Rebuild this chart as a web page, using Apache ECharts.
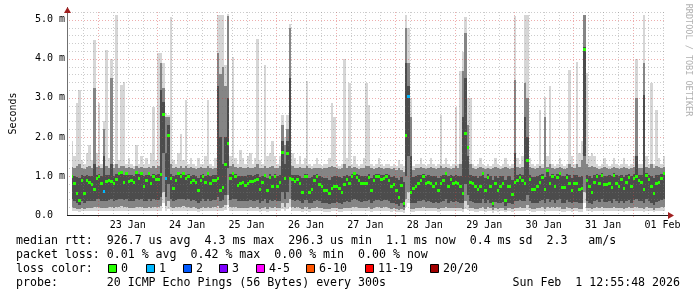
<!DOCTYPE html>
<html><head><meta charset="utf-8">
<script src="https://cdn.jsdelivr.net/npm/echarts@6/dist/echarts.min.js"></script>
<style>html,body{margin:0;padding:0;background:#fff}#c{width:697px;height:297px}</style>
</head><body><div id="c"></div><script>
// ---- data (hour steps, first step = 22 Jan 13:00) ----
const firstStepHour = 13;
const dayLabels = ['23 Jan','24 Jan','25 Jan','26 Jan','27 Jan','28 Jan','29 Jan','30 Jan','31 Jan','01 Feb'];
const yTickLabels = ['0.0  ','1.0 m','2.0 m','3.0 m','4.0 m','5.0 m'];
const medianRtt = [
1.00,0.83,0.56,0.38,0.90,0.56,0.89,0.84,0.80,0.67,
0.95,1.00,0.81,0.62,0.88,0.90,0.88,0.83,0.92,1.07,
1.10,0.85,1.08,0.88,0.90,0.84,1.10,0.96,1.07,0.75,
0.90,1.07,0.81,1.01,0.92,0.92,1.04,2.58,0.94,2.05,
0.94,0.70,0.90,1.08,1.00,1.07,0.94,1.00,0.84,0.90,
0.84,0.64,0.90,1.00,0.85,1.08,0.83,0.90,0.90,0.95,
0.64,0.71,1.30,1.85,0.95,1.08,1.00,0.77,0.83,0.85,
0.76,0.83,0.88,0.86,0.90,0.92,0.66,0.85,1.03,0.64,
0.98,0.74,1.00,0.74,0.85,1.62,0.95,1.60,0.95,0.91,
0.88,0.91,0.81,0.60,1.00,1.00,0.58,0.66,0.90,1.00,
0.79,0.75,0.64,0.64,0.56,0.70,0.74,0.74,0.70,0.58,
0.80,0.91,0.81,1.00,1.07,0.98,0.90,0.81,0.83,0.81,
0.98,0.64,0.90,1.00,1.00,0.91,0.95,1.00,0.90,0.74,
0.80,0.64,0.47,0.77,0.32,2.05,3.05,0.60,0.70,0.74,
0.83,0.90,1.00,0.81,0.85,0.81,0.74,0.81,0.64,0.81,
0.90,1.08,0.74,0.91,0.83,0.85,0.81,0.75,0.57,2.10,
1.75,0.85,0.81,0.74,0.66,0.74,1.08,0.64,0.98,0.74,
0.30,0.81,0.64,0.74,0.81,0.38,0.74,0.74,0.54,0.85,
0.90,0.98,0.90,0.83,1.41,0.91,0.66,0.66,0.74,0.85,
0.98,0.66,1.15,0.81,1.00,0.74,0.98,1.08,0.72,0.72,
0.98,0.81,0.64,0.81,0.81,0.66,0.69,4.26,0.90,0.74,
0.60,0.84,1.00,0.81,1.03,0.79,0.79,0.81,0.72,1.03,
0.83,0.74,0.91,0.69,0.85,0.98,0.74,0.94,1.00,0.90,
0.85,0.66,1.03,0.91,0.74,0.56,0.81,0.85,0.94,1.08];
const lostPings = [
0,0,0,0,0,0,0,0,0,0, 0,0,0,1,0,0,0,0,0,0, 0,0,0,0,0,0,0,0,0,0, 0,0,0,0,0,0,0,0,1,0,
0,0,0,0,0,0,0,0,0,0, 0,0,0,0,0,0,0,0,0,0, 0,0,0,0,0,0,0,0,0,0, 0,0,0,0,0,0,0,0,0,0,
0,0,0,0,0,0,0,0,0,0, 0,0,0,0,0,0,0,0,0,0, 0,0,0,0,0,0,0,0,0,0, 0,0,0,0,0,0,0,0,0,0,
0,0,0,0,0,0,0,0,0,0, 0,0,0,0,0,0,1,0,0,0, 0,0,0,0,0,0,0,0,0,0, 0,0,0,0,0,0,0,0,0,0,
0,0,0,0,0,0,0,0,0,0, 0,0,0,0,0,0,0,0,0,0, 0,0,0,0,0,0,0,0,0,0, 0,0,0,0,0,0,0,0,0,0,
0,0,0,0,0,0,0,0,0,0, 0,0,0,0,0,0,0,0,0,0, 0,0,0,0,0,0,0,0,0,0, 0,0,0,0,0,0,0,0,0,0];
const maxPing = [
1.9,1.5,2.87,3.2,1.4,1.3,1.6,1.8,1.4,4.49,
1.6,2.87,1.3,2.4,4.23,1.45,4.0,1.3,5.13,1.4,
3.33,3.4,1.3,1.45,1.3,1.25,1.8,1.3,1.5,1.3,
1.45,1.3,1.6,2.77,1.4,4.15,4.15,3.9,2.6,2.56,
5.07,1.4,1.3,1.6,2.07,1.4,2.95,1.3,1.45,1.3,
1.25,1.45,1.3,1.3,1.5,2.95,1.3,1.25,1.45,5.13,
5.13,5.13,3.85,5.15,1.5,4.05,1.45,1.3,1.67,1.45,
1.3,1.5,1.6,1.3,1.45,4.5,1.4,1.3,3.85,1.5,
1.6,1.9,1.5,1.3,1.5,2.56,2.0,2.56,4.9,1.6,
1.45,1.3,1.5,1.3,1.45,3.44,1.3,1.25,1.3,1.45,
1.3,1.25,1.3,1.3,1.45,2.87,2.5,1.3,1.25,1.3,
4.0,1.45,3.38,1.3,1.5,1.3,1.25,1.3,1.45,3.38,
2.82,1.3,1.25,1.3,1.45,1.3,1.25,1.3,1.3,1.25,
1.3,1.25,1.4,1.3,1.25,5.13,4.8,3.0,1.25,1.3,
1.3,1.45,1.3,1.25,1.3,1.45,1.3,1.25,1.3,2.56,
1.3,1.45,1.3,1.25,1.3,2.77,1.3,3.7,4.18,5.07,
3.0,3.0,1.3,1.25,1.3,1.45,1.3,1.25,1.3,1.25,
1.3,1.45,1.3,1.25,1.3,1.45,1.3,1.25,1.3,5.1,
1.45,1.3,1.5,5.13,5.13,1.45,1.3,1.25,1.3,2.7,
1.3,3.03,1.5,3.3,1.3,1.25,1.3,1.45,1.3,1.25,
1.3,3.72,1.5,1.3,3.92,1.6,1.9,5.13,3.64,1.5,
1.6,1.5,1.3,1.25,1.3,1.45,1.3,1.25,1.3,1.45,
1.3,1.25,1.3,1.45,1.3,1.25,1.3,1.5,4.0,1.3,
1.3,5.13,1.5,1.3,3.38,1.3,2.7,1.45,1.3,1.5];
const p90Ping = [
1.22,1.2,1.25,1.3,1.2,1.18,1.22,1.25,1.2,3.25,
1.22,1.25,1.2,2.2,1.25,1.2,3.5,1.2,1.3,1.2,
1.25,1.25,1.2,1.22,1.2,1.18,1.25,1.2,1.22,1.2,
1.2,1.22,1.2,1.25,1.2,1.25,3.9,3.25,2.5,2.5,
1.3,1.2,1.22,1.2,1.25,1.2,1.25,1.2,1.22,1.2,
1.18,1.2,1.22,1.2,1.2,1.25,1.2,1.18,1.2,4.15,
3.6,3.8,3.3,5.1,1.25,1.3,1.22,1.2,1.22,1.2,
1.2,1.22,1.2,1.2,1.22,1.3,1.2,1.2,1.25,1.2,
1.22,1.25,1.2,1.2,1.25,2.3,1.8,2.2,4.8,1.25,
1.2,1.2,1.22,1.2,1.2,1.25,1.2,1.18,1.2,1.2,
1.2,1.18,1.2,1.2,1.22,1.25,1.22,1.2,1.18,1.2,
1.3,1.2,1.25,1.2,1.22,1.2,1.18,1.2,1.2,1.25,
1.25,1.2,1.18,1.2,1.22,1.2,1.18,1.2,1.2,1.18,
1.2,1.15,1.2,1.15,1.1,4.8,3.9,2.5,1.15,1.2,
1.2,1.22,1.2,1.18,1.2,1.22,1.2,1.18,1.2,1.25,
1.2,1.22,1.2,1.18,1.2,1.25,1.2,1.3,3.7,4.66,
2.3,1.3,1.2,1.18,1.2,1.22,1.2,1.18,1.2,1.18,
1.2,1.22,1.2,1.18,1.2,1.22,1.2,1.18,1.2,3.46,
1.22,1.2,1.22,3.38,3.0,1.22,1.2,1.18,1.2,1.25,
1.2,2.5,1.22,1.3,1.2,1.18,1.2,1.22,1.2,1.18,
1.2,1.3,1.22,1.2,1.3,1.22,1.4,5.13,1.3,1.22,
1.25,1.22,1.2,1.18,1.2,1.22,1.2,1.18,1.2,1.22,
1.2,1.18,1.2,1.22,1.2,1.18,1.2,1.22,3.0,1.2,
1.2,3.9,1.22,1.2,1.3,1.2,1.25,1.22,1.2,1.22];
const p75Ping = [
1.02,1.0,0.98,0.95,1.02,1.0,1.02,1.0,1.0,1.3,
1.02,1.05,1.0,1.5,1.02,1.02,1.3,1.0,1.05,1.1,
1.12,1.02,1.1,1.02,1.02,1.0,1.12,1.05,1.1,1.0,
1.02,1.1,1.0,1.05,1.02,1.05,3.2,2.9,1.6,2.3,
1.05,1.0,1.02,1.1,1.05,1.1,1.02,1.05,1.0,1.02,
1.0,0.95,1.02,1.05,1.0,1.1,1.0,1.02,1.02,3.3,
2.0,1.3,2.0,3.0,1.05,1.1,1.05,1.0,1.0,1.0,
1.0,1.02,1.02,1.0,1.02,1.05,0.98,1.0,1.05,0.95,
1.05,1.0,1.05,1.0,1.02,1.9,1.3,1.9,3.5,1.02,
1.02,1.02,1.0,0.95,1.05,1.05,0.95,0.98,1.02,1.05,
1.0,0.98,0.95,0.95,0.9,0.98,1.0,1.0,0.98,0.95,
1.0,1.02,1.0,1.05,1.1,1.05,1.02,1.0,1.0,1.0,
1.05,0.95,1.02,1.05,1.05,1.02,1.02,1.05,1.02,0.98,
1.0,0.95,0.9,0.98,0.85,3.9,3.3,1.5,0.98,1.0,
1.02,1.02,1.05,1.0,1.02,1.0,1.0,1.0,0.95,1.0,
1.02,1.1,1.0,1.02,1.0,1.02,1.0,1.0,2.5,3.5,
1.5,1.02,1.0,1.0,0.95,1.0,1.1,0.95,1.05,1.0,
0.9,1.0,0.95,1.0,1.0,0.9,1.0,1.0,0.9,1.6,
1.02,1.05,1.02,2.5,2.0,1.02,0.98,0.98,1.0,1.02,
1.05,0.98,1.1,1.0,1.05,1.0,1.05,1.1,1.0,1.0,
1.05,1.02,0.95,1.02,1.02,0.98,1.0,4.3,1.02,1.0,
0.95,1.02,1.05,1.02,1.08,1.0,1.0,1.02,1.0,1.08,
1.02,1.0,1.02,0.98,1.02,1.05,1.0,1.05,1.5,1.02,
1.02,3.08,1.08,1.02,1.0,0.95,1.02,1.02,1.05,1.1];
const p25Ping = [
0.4,0.35,0.3,0.25,0.35,0.3,0.35,0.35,0.35,0.35,
0.4,0.4,0.35,0.35,0.35,0.38,0.4,0.35,0.38,0.4,
0.42,0.38,0.4,0.35,0.35,0.35,0.4,0.38,0.4,0.35,
0.35,0.4,0.35,0.4,0.38,0.38,0.45,1.6,0.45,0.8,
0.4,0.35,0.38,0.4,0.4,0.42,0.38,0.4,0.35,0.38,
0.35,0.3,0.35,0.4,0.35,0.4,0.35,0.38,0.38,0.45,
0.35,0.38,0.5,1.2,0.38,0.4,0.4,0.35,0.35,0.35,
0.35,0.35,0.38,0.35,0.35,0.38,0.3,0.35,0.4,0.3,
0.38,0.35,0.38,0.35,0.35,0.6,0.4,0.6,0.9,0.38,
0.35,0.38,0.35,0.3,0.38,0.38,0.3,0.32,0.35,0.38,
0.35,0.32,0.3,0.3,0.28,0.32,0.32,0.33,0.3,0.28,
0.33,0.35,0.33,0.38,0.4,0.38,0.35,0.33,0.35,0.35,
0.38,0.3,0.35,0.38,0.38,0.35,0.38,0.38,0.35,0.3,
0.32,0.28,0.22,0.3,0.2,1.0,1.5,0.3,0.3,0.32,
0.35,0.35,0.38,0.33,0.35,0.33,0.32,0.33,0.3,0.33,
0.35,0.4,0.32,0.35,0.33,0.35,0.33,0.32,0.3,0.8,
0.5,0.35,0.33,0.3,0.3,0.32,0.4,0.3,0.38,0.32,
0.2,0.33,0.3,0.32,0.33,0.22,0.32,0.32,0.28,0.35,
0.35,0.38,0.35,0.35,0.5,0.35,0.3,0.3,0.32,0.35,
0.38,0.3,0.4,0.33,0.38,0.32,0.38,0.4,0.3,0.3,
0.38,0.33,0.3,0.33,0.33,0.3,0.3,1.5,0.35,0.32,
0.28,0.35,0.38,0.33,0.4,0.33,0.33,0.35,0.32,0.4,
0.35,0.32,0.35,0.3,0.35,0.38,0.32,0.38,0.4,0.35,
0.35,0.3,0.4,0.35,0.32,0.25,0.33,0.35,0.38,0.4];
const p10Ping = [
0.2,0.18,0.16,0.15,0.18,0.16,0.18,0.18,0.18,0.2,
0.2,0.2,0.18,0.18,0.18,0.2,0.2,0.18,0.2,0.2,
0.22,0.2,0.2,0.18,0.18,0.18,0.2,0.2,0.2,0.18,
0.18,0.2,0.18,0.2,0.2,0.2,0.22,0.6,0.22,0.35,
0.2,0.18,0.2,0.2,0.2,0.22,0.2,0.2,0.18,0.2,
0.18,0.16,0.18,0.2,0.18,0.2,0.18,0.2,0.2,0.22,
0.18,0.2,0.25,0.5,0.2,0.2,0.2,0.18,0.18,0.18,
0.18,0.18,0.2,0.18,0.18,0.2,0.16,0.18,0.2,0.16,
0.2,0.18,0.2,0.18,0.18,0.3,0.2,0.3,0.4,0.2,
0.18,0.2,0.18,0.16,0.2,0.2,0.16,0.17,0.18,0.2,
0.18,0.17,0.16,0.16,0.15,0.17,0.17,0.17,0.16,0.15,
0.17,0.18,0.17,0.2,0.2,0.2,0.18,0.17,0.18,0.18,
0.2,0.16,0.18,0.2,0.2,0.18,0.2,0.2,0.18,0.16,
0.17,0.15,0.13,0.16,0.12,0.4,0.6,0.16,0.16,0.17,
0.18,0.18,0.2,0.17,0.18,0.17,0.17,0.17,0.16,0.17,
0.18,0.2,0.17,0.18,0.17,0.18,0.17,0.17,0.16,0.35,
0.25,0.18,0.17,0.16,0.16,0.17,0.2,0.16,0.2,0.17,
0.12,0.17,0.16,0.17,0.17,0.13,0.17,0.17,0.15,0.18,
0.18,0.2,0.18,0.18,0.25,0.18,0.16,0.16,0.17,0.18,
0.2,0.16,0.2,0.17,0.2,0.17,0.2,0.2,0.16,0.16,
0.2,0.17,0.16,0.17,0.17,0.16,0.16,0.6,0.18,0.17,
0.15,0.18,0.2,0.17,0.2,0.17,0.17,0.18,0.17,0.2,
0.18,0.17,0.18,0.16,0.18,0.2,0.17,0.2,0.2,0.18,
0.18,0.16,0.2,0.18,0.17,0.14,0.17,0.18,0.2,0.2];
const minPing = [
0.10,0.09,0.09,0.08,0.09,0.09,0.10,0.09,0.09,0.10,
0.10,0.10,0.09,0.09,0.09,0.10,0.10,0.09,0.10,0.10,
0.11,0.10,0.10,0.09,0.09,0.09,0.10,0.10,0.10,0.09,
0.09,0.10,0.09,0.10,0.10,0.10,0.11,0.30,0.11,0.15,
0.10,0.09,0.10,0.10,0.10,0.11,0.10,0.10,0.09,0.10,
0.09,0.08,0.09,0.10,0.09,0.10,0.09,0.10,0.10,0.11,
0.09,0.10,0.12,0.25,0.10,0.10,0.10,0.09,0.09,0.09,
0.09,0.09,0.10,0.09,0.09,0.10,0.08,0.09,0.10,0.08,
0.10,0.09,0.10,0.09,0.09,0.15,0.10,0.15,0.20,0.10,
0.09,0.10,0.09,0.08,0.10,0.10,0.08,0.09,0.09,0.10,
0.09,0.09,0.08,0.08,0.08,0.09,0.09,0.09,0.08,0.08,
0.09,0.09,0.09,0.10,0.10,0.10,0.09,0.09,0.09,0.09,
0.10,0.08,0.09,0.10,0.10,0.09,0.10,0.10,0.09,0.08,
0.09,0.08,0.07,0.08,0.06,0.20,0.30,0.08,0.08,0.09,
0.09,0.09,0.10,0.09,0.09,0.09,0.09,0.09,0.08,0.09,
0.09,0.10,0.09,0.09,0.09,0.09,0.09,0.09,0.08,0.15,
0.12,0.09,0.09,0.08,0.08,0.09,0.10,0.08,0.10,0.09,
0.06,0.09,0.08,0.09,0.09,0.07,0.09,0.09,0.08,0.09,
0.09,0.10,0.09,0.09,0.12,0.09,0.08,0.08,0.09,0.09,
0.10,0.08,0.10,0.09,0.10,0.09,0.10,0.10,0.08,0.08,
0.10,0.09,0.08,0.09,0.09,0.08,0.08,0.30,0.09,0.09,
0.08,0.09,0.10,0.09,0.10,0.09,0.09,0.09,0.09,0.10,
0.09,0.09,0.09,0.08,0.09,0.10,0.09,0.10,0.10,0.09,
0.09,0.08,0.10,0.09,0.09,0.07,0.09,0.09,0.10,0.10];
const lossColors = ['#26ff00','#00b8ff','#0059ff','#7e00ff','#ff00ff','#ff5500','#ff0000','#a10000'];
const lossLabels = ['0','1','2','3','4-5','6-10','11-19','20/20'];
const statLines = [
  'median rtt:  926.7 us avg  4.3 ms max  296.3 us min  1.1 ms now  0.4 ms sd  2.3   am/s',
  'packet loss: 0.01 % avg  0.42 % max  0.00 % min  0.00 % now',
  'loss color:',
  'probe:       20 ICMP Echo Pings (56 Bytes) every 300s'
];
const stampText = 'Sun Feb  1 12:55:48 2026';
const sideText = 'RRDTOOL / TOBI OETIKER';

// ---- layout ----
const X_MIN = 13.5, X_MAX = 253;
const MONO = 'DejaVu Sans Mono';
const GL = 67, GT = 12, GW = 598, GH = 203;

function lossIndex(n){ if(n<=0) return 0; if(n<=3) return n; if(n<=5) return 4; if(n<=10) return 5; if(n<=19) return 6; return 7; }

const smokeData = medianRtt.map((m,i)=>[firstStepHour+i, minPing[i], p10Ping[i], p25Ping[i], p75Ping[i], p90Ping[i], maxPing[i]]);
const medData = medianRtt.map((m,i)=>[firstStepHour+i, m, lostPings[i]]);

function cx(api,h){ return Math.round(api.coord([h,0])[0]); }
function cy(api,v){ return Math.round(api.coord([X_MIN,v])[1]); }

const chart = echarts.init(document.getElementById('c'), null, {width:697, height:297});

const gridChildren = function(params, api){
  const cs = params.coordSys; const ch = [];
  const MAJ = 'rgba(215,60,60,0.42)', MIN = 'rgba(120,120,120,0.38)';
  for(let h=18; h<X_MAX; h+=6){
    const x = cx(api,h)+0.5; const major = (h%24===0);
    ch.push({type:'line', shape:{x1:x,y1:cs.y,x2:x,y2:cs.y+cs.height+(major?3:0)}, style:{stroke:major?MAJ:MIN, lineWidth:1, lineDash:[1,2]}});
  }
  for(let k=1;k<=26;k++){
    const v = k*0.2; const y = cy(api,v)+0.5; const major = (k%5===0);
    ch.push({type:'line', shape:{x1:cs.x-3,y1:y,x2:cs.x+cs.width,y2:y}, style:{stroke:major?MAJ:MIN, lineWidth:1, lineDash:[1,2]}});
  }
  return {type:'group', children:ch};
};

const option = {
  animation:false,
  backgroundColor:'#fff',
  grid:{left:GL, top:GT, width:GW, height:GH},
  xAxis:{type:'value', min:X_MIN, max:X_MAX,
    axisLine:{show:false}, axisTick:{show:false}, splitLine:{show:false},
    axisLabel:{customValues: dayLabels.map((_,k)=>36+24*k), formatter:v=>dayLabels[Math.round((v-36)/24)]||'',
      fontFamily:MONO, fontSize:10, color:'#000', margin:5}},
  yAxis:{type:'value', min:0, max:5.2, interval:1,
    axisLine:{show:false}, axisTick:{show:false}, splitLine:{show:false},
    axisLabel:{formatter:v=>{const r=Math.round(v); return Math.abs(v-r)<1e-6 && yTickLabels[r]!==undefined ? yTickLabels[r] : '';},
      fontFamily:MONO, fontSize:10, color:'#000', margin:7},
    name:'Seconds', nameLocation:'middle', nameGap:54, nameRotate:90,
    nameTextStyle:{fontFamily:MONO, fontSize:10, color:'#000'}},
  series:[
    {type:'custom', name:'smoke', coordinateSystem:'cartesian2d', clip:true, z:2, silent:true,
     encode:{x:0, y:[1,2,3,4,5,6]}, data:smokeData,
     renderItem:function(params, api){
       const h = api.value(0); const x0 = cx(api,h), x1 = cx(api,h+1); const w = x1-x0;
       const y = [1,2,3,4,5,6].map(k=>cy(api, api.value(k)));
       return {type:'group', children:[
         {type:'rect', shape:{x:x0,y:y[5],width:w,height:y[0]-y[5]}, style:{fill:'#d6d6d6'}},
         {type:'rect', shape:{x:x0,y:y[4],width:w,height:y[1]-y[4]}, style:{fill:'#858585'}},
         {type:'rect', shape:{x:x0,y:y[3],width:w,height:y[2]-y[3]}, style:{fill:'#4c4c4c'}}
       ]};
     }},
    {type:'custom', name:'grid', coordinateSystem:'cartesian2d', clip:false, z:3, silent:true,
     encode:{x:0,y:1}, data:[[X_MIN+1, 1]], renderItem:gridChildren},
    {type:'custom', name:'median', coordinateSystem:'cartesian2d', clip:true, z:4, silent:true,
     encode:{x:0, y:1}, data:medData,
     renderItem:function(params, api){
       const h = api.value(0); const x0 = cx(api,h), x1 = cx(api,h+1);
       const y = cy(api, api.value(1));
       return {type:'rect', shape:{x:x0, y:y-1, width:Math.max(2,x1-x0), height:3}, style:{fill:lossColors[lossIndex(api.value(2))]}};
     }}
  ],
  graphic:(function(){
    const g = [];
    g.push({type:'line', z:10, shape:{x1:GL+0.5,y1:GT+GH,x2:GL+0.5,y2:7}, style:{stroke:'#707070', lineWidth:1}});
    g.push({type:'line', z:10, shape:{x1:GL,y1:GT+GH+0.5,x2:670,y2:GT+GH+0.5}, style:{stroke:'#202020', lineWidth:1}});
    g.push({type:'polygon', z:11, shape:{points:[[64,13],[71,13],[67.5,7]]}, style:{fill:'#a02020'}});
    g.push({type:'polygon', z:11, shape:{points:[[668,212],[668,219],[674,215.5]]}, style:{fill:'#a02020'}});
    g.push({type:'text', x:688, y:60, rotation:-Math.PI/2, style:{text:sideText, fontFamily:MONO, fontSize:8.5, fill:'#b0b0b0', align:'center', verticalAlign:'middle'}});
    const rowsY = [241, 255, 269, 283];
    statLines.forEach((t,i)=>g.push({type:'text', x:16, y:rowsY[i], style:{text:t, fontFamily:MONO, fontSize:11.6, fill:'#000', verticalAlign:'middle'}}));
    g.push({type:'text', x:680, y:rowsY[3], style:{text:stampText, fontFamily:MONO, fontSize:11.6, fill:'#000', align:'right', verticalAlign:'middle'}});
    const boxX = [108,145.7,182.7,219.3,256,306,365,430];
    lossLabels.forEach((lab,i)=>{
      const bx = Math.round(boxX[i])+0.5;
      g.push({type:'rect', shape:{x:bx,y:264.5,width:8,height:8}, style:{fill:lossColors[i], stroke:'#000', lineWidth:1}});
      g.push({type:'text', x:bx+12.5, y:rowsY[2], style:{text:lab, fontFamily:MONO, fontSize:11.6, fill:'#000', verticalAlign:'middle'}});
    });
    return g;
  })()
};
chart.setOption(option);
</script></body></html>
